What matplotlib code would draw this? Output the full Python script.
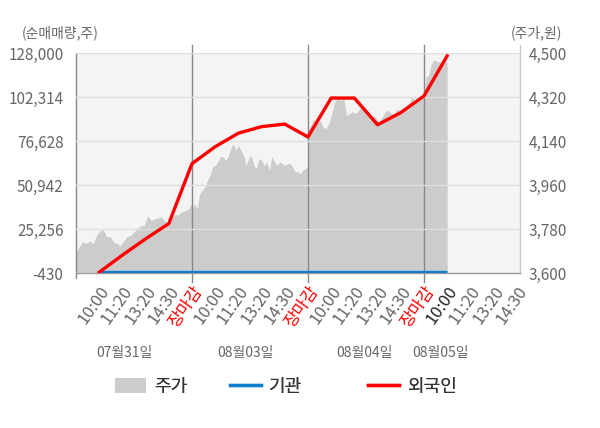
import numpy as np
import matplotlib
matplotlib.use("Agg")
import matplotlib.pyplot as plt
import matplotlib.transforms as mtransforms
from matplotlib.patches import Patch
from matplotlib.lines import Line2D

plt.rcParams['font.family'] = ['Noto Sans CJK KR', 'DejaVu Sans']

# 주가 (원), one list per trading day
price_d1 = [3687, 3708, 3728, 3720, 3732, 3720, 3753, 3773, 3777, 3749, 3749, 3728,
            3720, 3712, 3732, 3749, 3753, 3769, 3781, 3794, 3794, 3834, 3814, 3822,
            3826, 3830, 3814, 3802, 3826, 3838, 3838, 3851, 3855, 3863, 3888]
price_d2 = [3863, 3883, 3863, 3924, 3938, 3953, 3979, 3999, 4035, 4040, 4055, 4076,
            4076, 4061, 4076, 4108, 4129, 4102, 4122, 4102, 4081, 4040, 4068, 4081,
            4040, 4027, 4068, 4061, 4040, 4055, 4020, 4076, 4055, 4040, 4055, 4047,
            4040, 4047, 4047, 4035, 4014, 4014, 4006, 4020, 4027, 4035]
price_d3 = [4178, 4204, 4231, 4211, 4224, 4198, 4190, 4211, 4252, 4301, 4313, 4306,
            4313, 4245, 4252, 4260, 4252, 4265, 4280, 4280, 4252, 4224, 4245, 4231,
            4219, 4239, 4260, 4265, 4252, 4252, 4272, 4260, 4260, 4280, 4293, 4321,
            4301, 4313, 4321, 4326]
price_d4 = [4326, 4403, 4408, 4449, 4470, 4470, 4463, 4466, 4456, 4463, 4463]
price_days = [price_d1, price_d2, price_d3, price_d4]

# 순매매량 (주) at each time tick
foreign = [0, 10000, 19500, 28400, 63400, 73300, 81200, 85000, 86500, 79000,
           101700, 101700, 86100, 93200, 102900, 126300]
inst = [0] * 16

tick_labels = ['10:00', '11:20', '13:20', '14:30', '장마감'] * 3 + ['10:00', '11:20', '13:20', '14:30']
dates = ['07월31일', '08월03일', '08월04일', '08월05일']
date_pos = [2.1, 7.3, 12.45, 15.7]

left_ticks = np.linspace(-430, 128000, 6)
right_ticks = np.arange(3600, 4501, 180)

fig = plt.figure(figsize=(6, 4.28), dpi=100)
ax = fig.add_axes([76/600, 1-273/428, 444/600, 220/428])
ax.set_facecolor('#f4f4f4')
ax2 = ax.twinx()

for d, p in enumerate(price_days):
    x = np.linspace(d*5, d*5 + (5 if d < 3 else 1), len(p))
    ax.fill_between(x, p, 3600, color='#cccccc', lw=0, zorder=1)

ax.set_ylim(3600, 4500)
ax.set_xlim(0, 19.14)
ax.set_yticks(right_ticks)
ax.set_yticklabels([f'{v:,}' for v in right_ticks])
ax.grid(axis='y', color='#dedede', lw=1)
ax.set_axisbelow(False)

ax2.plot(range(1, 17), inst, color='#0f7fcc', lw=2.4, solid_capstyle='butt', zorder=3)
ax2.plot(range(1, 17), foreign, color='#ff0000', lw=2.4, zorder=4)
ax2.set_ylim(-430, 128000)
ax2.set_yticks(left_ticks)
ax2.set_yticklabels([f'{v:,.0f}' for v in left_ticks])

ax.yaxis.tick_right()
ax2.yaxis.tick_left()

for a in (ax, ax2):
    a.tick_params(axis='y', length=0, labelsize=11, labelcolor='#666666')
    for s in a.spines.values():
        s.set_visible(False)
ax.tick_params(axis='y', pad=6)
ax2.tick_params(axis='y', pad=9)

ax.set_xticks(range(1, 20))
ax.set_xticklabels(tick_labels, rotation=55, ha='right', va='top', rotation_mode='anchor')
ax.tick_params(axis='x', length=0, pad=7, labelsize=12)
for i, lab in enumerate(ax.get_xticklabels()):
    if tick_labels[i] == '장마감':
        lab.set_color('red')
    elif i == 15:
        lab.set_color('#222222')
    else:
        lab.set_color('#666666')

trans = mtransforms.blended_transform_factory(ax.transData, ax.transAxes)
for xb in (5, 10, 15):
    ax.plot([xb, xb], [-0.041, 1.036], color='#888888', lw=1, transform=trans, clip_on=False, zorder=2)
ax.plot([0, 0], [-0.023, 1.0], color='#888888', lw=1, transform=trans, clip_on=False)
ax.plot([19.14, 19.14], [0, 1.036], color='#cccccc', lw=1, transform=trans, clip_on=False)
ax.plot([0, 19.14], [0, 0], color='#999999', lw=1, transform=trans, clip_on=False)

for xd, t in zip(date_pos, dates):
    ax.text(xd, -0.364, t, transform=trans, ha='center', va='center', fontsize=10, color='#666666')

fig.text(22/600, 1-33/428, '(순매매량,주)', ha='left', va='center', fontsize=10, color='#666666')
fig.text(562/600, 1-33/428, '(주가,원)', ha='right', va='center', fontsize=10, color='#666666')

handles = [Patch(facecolor='#cccccc', edgecolor='none'),
           Line2D([], [], color='#0f7fcc', lw=2.4),
           Line2D([], [], color='#ff0000', lw=2.4)]
names = ['주가', '기관', '외국인']
leg_x = [115, 230, 368]
for h, n, lx in zip(handles, names, leg_x):
    leg = fig.legend([h], [n], loc='center left', bbox_to_anchor=(lx/600, 1-387/428),
                     frameon=False, fontsize=13, handlelength=1.7, handleheight=0.9,
                     handletextpad=0.45, borderpad=0, borderaxespad=0, labelcolor='#333333')
    fig.add_artist(leg)

fig.savefig('out.png', dpi=100)
